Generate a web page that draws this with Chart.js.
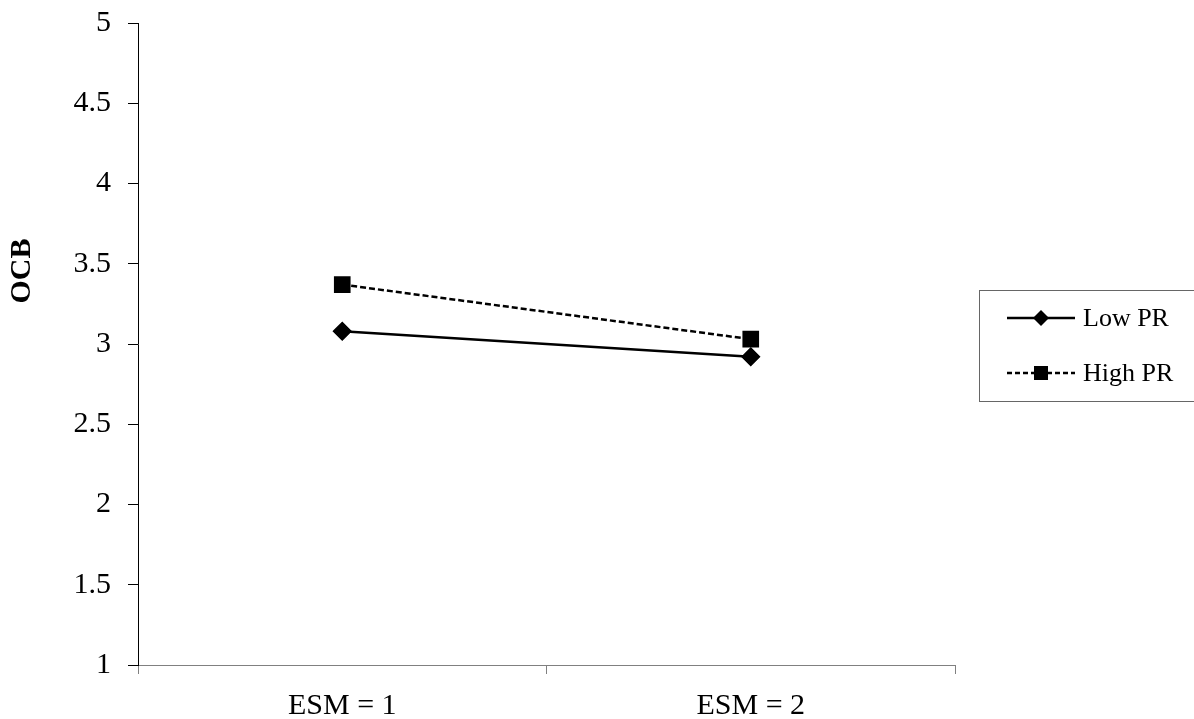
<!DOCTYPE html>
<html>
<head>
<meta charset="utf-8">
<script src="https://cdn.jsdelivr.net/npm/chart.js@4/dist/chart.umd.min.js"></script>
<style>
  html, body { margin: 0; padding: 0; background: #fff; }
  #wrap { width: 1194px; height: 719px; }
</style>
</head>
<body>
<div id="wrap"><canvas id="chart" width="1194" height="719"></canvas></div>
<script>
const categories = ['ESM = 1', 'ESM = 2'];
const lowPR = [3.08, 2.92];
const highPR = [3.37, 3.03];
const seriesNames = ['Low PR', 'High PR'];
const yTitle = 'OCB';

const serif = '"Liberation Serif", "Times New Roman", serif';

// y-axis title and right-hand legend, drawn by hand like the original
const extras = {
    id: 'extras',
    afterDraw(chart) {
        const ctx = chart.ctx;
        ctx.save();
        ctx.translate(22, 271);
        ctx.rotate(-Math.PI / 2);
        ctx.font = 'bold 30px ' + serif;
        ctx.fillStyle = '#000';
        ctx.textAlign = 'center';
        ctx.textBaseline = 'middle';
        ctx.fillText(yTitle, 0, 0);
        ctx.restore();

        ctx.save();
        ctx.strokeStyle = '#666';
        ctx.lineWidth = 1;
        ctx.strokeRect(979.5, 290.5, 240, 111);

        const rows = [
            { y: 318, dash: [], shape: 'diamond', name: seriesNames[0] },
            { y: 373, dash: [5, 3], shape: 'square', name: seriesNames[1] }
        ];
        rows.forEach(r => {
            ctx.strokeStyle = '#000';
            ctx.lineWidth = 2.5;
            ctx.setLineDash(r.dash);
            ctx.beginPath();
            ctx.moveTo(1007, r.y);
            ctx.lineTo(1075, r.y);
            ctx.stroke();
            ctx.setLineDash([]);
            ctx.fillStyle = '#000';
            ctx.beginPath();
            if (r.shape === 'diamond') {
                ctx.moveTo(1041, r.y - 8);
                ctx.lineTo(1049, r.y);
                ctx.lineTo(1041, r.y + 8);
                ctx.lineTo(1033, r.y);
                ctx.closePath();
            } else {
                ctx.rect(1034, r.y - 7, 14, 14);
            }
            ctx.fill();
            ctx.font = '26px ' + serif;
            ctx.textAlign = 'left';
            ctx.textBaseline = 'middle';
            ctx.fillText(r.name, 1083, r.y + 1);
        });
        ctx.restore();
    }
};

new Chart(document.getElementById('chart'), {
    type: 'line',
    data: {
        labels: categories,
        datasets: [
            {
                label: seriesNames[0],
                data: lowPR,
                borderColor: '#000',
                backgroundColor: '#000',
                borderWidth: 2.5,
                pointStyle: 'rectRot',
                pointRadius: 8,
                pointHoverRadius: 8,
                tension: 0
            },
            {
                label: seriesNames[1],
                data: highPR,
                borderColor: '#000',
                backgroundColor: '#000',
                borderWidth: 2.5,
                borderDash: [6, 3],
                pointStyle: 'rect',
                pointRadius: 10,
                pointHoverRadius: 10,
                tension: 0
            }
        ]
    },
    options: {
        responsive: false,
        animation: false,
        layout: { padding: { top: 23, right: 239, left: 0, bottom: 0 } },
        plugins: {
            legend: { display: false },
            tooltip: { enabled: false }
        },
        scales: {
            x: {
                type: 'category',
                offset: true,
                afterFit: s => { s.height = 54; s.paddingLeft = 0; s.paddingRight = 0; },
                grid: { offset: true, drawOnChartArea: false, drawTicks: true, tickLength: 9, color: '#808080' },
                border: { display: true, color: '#808080', width: 1 },
                ticks: { color: '#000', padding: 14, font: { family: serif, size: 30 } }
            },
            y: {
                min: 1,
                max: 5,
                afterFit: s => { s.width = 138; s.paddingTop = 0; s.paddingBottom = 0; },
                grid: { drawOnChartArea: false, drawTicks: true, tickLength: 10, color: '#000' },
                border: { display: true, color: '#000', width: 1 },
                ticks: {
                    stepSize: 0.5,
                    color: '#000',
                    padding: 17,
                    font: { family: serif, size: 30 },
                    callback: v => String(v)
                }
            }
        }
    },
    plugins: [extras]
});
</script>
</body>
</html>
